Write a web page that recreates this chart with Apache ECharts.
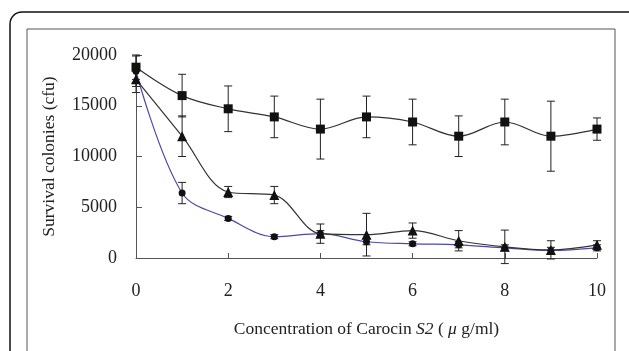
<!DOCTYPE html>
<html>
<head>
<meta charset="utf-8">
<script src="https://cdn.jsdelivr.net/npm/echarts@6/dist/echarts.min.js"></script>
<style>
    html, body { margin: 0; padding: 0; background: #fff; }
    #chart { width: 629px; height: 351px; }
</style>
</head>
<body>
<div id="chart"></div>
<script>
// concentrations (x)
const conc = [0, 1, 2, 3, 4, 5, 6, 7, 8, 9, 10]
// squares (control)
const squareVals = [18800, 16000, 14700, 13900, 12700, 13900, 13400, 12000, 13400, 12000, 12700]
const squareErr = [1200, 2100, 2250, 2050, 2950, 2050, 2250, 2000, 2250, 3450, 1100]
// triangles
const triVals = [17600, 12000, 6500, 6200, 2400, 2300, 2700, 1700, 1100, 800, 1300]
const triErr = [1300, 2000, 550, 850, 950, 2100, 750, 1000, 1650, 900, 400]
// circles (blue line)
const circVals = [18400, 6400, 3900, 2100, 2400, 1600, 1400, 1300, 1000, 750, 1000]
const circErr = [1500, 1050, 200, 200, 300, 300, 200, 300, 300, 300, 300]
const xTicks = [0, 2, 4, 6, 8, 10]
const yTicks = [0, 5000, 10000, 15000, 20000]

const font = "'Liberation Serif', 'Times New Roman', serif"

function pairs(vals) {
    return conc.map((x, i) => [x, vals[i]])
}
function errData(vals, errs) {
    return conc.map((x, i) => [x, vals[i] - errs[i], vals[i] + errs[i]])
}

// error bar drawn through the axes
function renderErr(params, api) {
    const lo = api.coord([api.value(0), api.value(1)])
    const hi = api.coord([api.value(0), api.value(2)])
    const w = 4
    const style = { stroke: '#222', lineWidth: 1 }
    return {
        type: 'group',
        children: [
            { type: 'line', shape: { x1: lo[0], y1: lo[1], x2: hi[0], y2: hi[1] }, style: style },
            { type: 'line', shape: { x1: lo[0] - w, y1: lo[1], x2: lo[0] + w, y2: lo[1] }, style: style },
            { type: 'line', shape: { x1: hi[0] - w, y1: hi[1], x2: hi[0] + w, y2: hi[1] }, style: style }
        ]
    }
}

function errSeries(vals, errs) {
    return {
        type: 'custom',
        renderItem: renderErr,
        data: errData(vals, errs),
        clip: false,
        silent: true,
        z: 1
    }
}

const chart = echarts.init(document.getElementById('chart'), null, { renderer: 'canvas' })

const option = {
    animation: false,
    backgroundColor: '#fff',
    grid: { left: 136, right: 32, top: 55, bottom: 93 },
    graphic: [
        {
            type: 'rect',
            shape: { x: 10, y: 12, width: 640, height: 400, r: 12 },
            style: { fill: 'none', stroke: '#111', lineWidth: 1.5 },
            z: 0
        },
        {
            type: 'rect',
            shape: { x: 27, y: 29, width: 588, height: 380 },
            style: { fill: 'none', stroke: '#555', lineWidth: 1 },
            z: 0
        }
    ],
    xAxis: {
        type: 'value',
        min: 0,
        max: 10,
        interval: 2,
        name: '{a|Concentration of Carocin }{i|S2}{a| ( }{i|μ}{a| g/ml)}',
        nameLocation: 'middle',
        nameGap: 62,
        nameTextStyle: {
            rich: {
                a: { fontFamily: font, fontSize: 17.5, color: '#222' },
                i: { fontFamily: font, fontSize: 17.5, color: '#222', fontStyle: 'italic' }
            }
        },
        axisLine: { onZero: false, lineStyle: { color: '#555', width: 1 } },
        axisTick: { show: true, inside: true, length: 5, lineStyle: { color: '#555' } },
        axisLabel: {
            margin: 24,
            fontFamily: font,
            fontSize: 18,
            color: '#222',
            customValues: xTicks
        },
        splitLine: { show: false }
    },
    yAxis: {
        type: 'value',
        min: 0,
        max: 20000,
        interval: 5000,
        name: 'Survival colonies (cfu)',
        nameLocation: 'middle',
        nameGap: 78,
        nameTextStyle: { fontFamily: font, fontSize: 17.5, color: '#222' },
        axisLine: { show: true, lineStyle: { color: '#555', width: 1 } },
        axisTick: { show: true, inside: true, length: 6, lineStyle: { color: '#555' } },
        axisLabel: {
            margin: 19,
            fontFamily: font,
            fontSize: 18,
            color: '#222',
            customValues: yTicks,
            formatter: v => String(v)
        },
        splitLine: { show: false }
    },
    series: [
        errSeries(squareVals, squareErr),
        errSeries(triVals, triErr),
        errSeries(circVals, circErr),
        {
            type: 'line',
            data: pairs(circVals),
            smooth: 0.35,
            symbol: 'circle',
            symbolSize: 7,
            itemStyle: { color: '#111' },
            lineStyle: { color: '#4a4aa8', width: 1.2 },
            z: 2
        },
        {
            type: 'line',
            data: pairs(triVals),
            smooth: 0.35,
            symbol: 'triangle',
            symbolSize: 10,
            itemStyle: { color: '#111' },
            lineStyle: { color: '#333', width: 1.2 },
            z: 3
        },
        {
            type: 'line',
            data: pairs(squareVals),
            smooth: 0.35,
            symbol: 'rect',
            symbolSize: 9,
            itemStyle: { color: '#111' },
            lineStyle: { color: '#333', width: 1.2 },
            z: 4
        }
    ]
}

chart.setOption(option)
</script>
</body>
</html>
